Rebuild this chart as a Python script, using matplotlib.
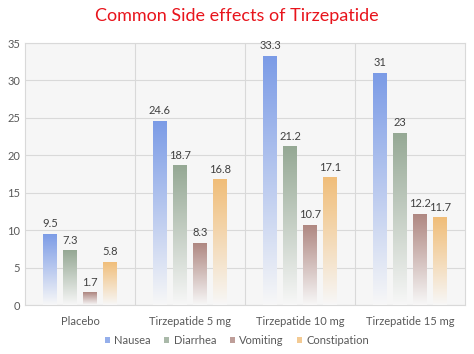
import matplotlib
matplotlib.use('Agg')
import matplotlib.pyplot as plt
import numpy as np
from matplotlib.patches import Patch

plt.rcParams['font.family'] = ['Lato', 'DejaVu Sans']

groups = ['Placebo', 'Tirzepatide 5 mg', 'Tirzepatide 10 mg', 'Tirzepatide 15 mg']
effects = ['Nausea', 'Diarrhea', 'Vomiting', 'Constipation']
nausea = [9.5, 24.6, 33.3, 31]
diarrhea = [7.3, 18.7, 21.2, 23]
vomiting = [1.7, 8.3, 10.7, 12.2]
constipation = [5.8, 16.8, 17.1, 11.7]
series = [nausea, diarrhea, vomiting, constipation]
colors = ['#7b9be6', '#95a894', '#ae8680', '#f0bd78']

fig = plt.figure(figsize=(4.74, 3.54), dpi=100)
ax = fig.add_axes([25 / 474, 1 - 305 / 354, 440 / 474, 262 / 354])
ax.set_facecolor('#f6f6f6')

x = np.arange(len(groups))
w = 0.127
step = 0.182
grad = np.linspace(0, 1, 256)

for i, (vals, col) in enumerate(zip(series, colors)):
    rgb = np.array(matplotlib.colors.to_rgb(col))
    img = np.zeros((256, 1, 3))
    for k in range(3):
        # top = full colour, bottom = near white
        img[:, 0, k] = rgb[k] + (0.97 - rgb[k]) * (1 - grad)
    pos = x + (i - 1.5) * step
    bars = ax.bar(pos, vals, w, color='none', edgecolor='none', zorder=3)
    for b, v in zip(bars, vals):
        im = ax.imshow(img, extent=(b.get_x(), b.get_x() + w, 0, v),
                       origin='lower', aspect='auto', zorder=3)
        im.set_clip_path(b)
        ax.text(b.get_x() + w / 2, v + 0.6, f'{v:g}', ha='center', va='bottom',
                fontsize=8, color='#404040', zorder=4)

ax.set_xlim(-0.5, len(groups) - 0.5)
ax.set_ylim(0, 35)
ax.set_yticks(range(0, 36, 5))
ax.set_xticks(x)
ax.set_xticklabels(groups)
ax.tick_params(axis='both', length=0, labelsize=8, labelcolor='#595959')
ax.tick_params(axis='x', pad=8)
ax.yaxis.grid(True, color='#d9d9d9', lw=0.8, zorder=1)
for xb in np.arange(0.5, len(groups) - 0.5, 1):
    ax.axvline(xb, color='#d9d9d9', lw=0.8, zorder=1)
for s in ax.spines.values():
    s.set_color('#d9d9d9')
    s.set_linewidth(0.8)

fig.suptitle('Common Side effects of Tirzepatide', color='#e8141c', fontsize=13,
             y=1 - 8 / 354, va='top')

handles = [Patch(facecolor=c, edgecolor='none', alpha=0.8) for c in colors]
fig.legend(handles, effects, loc='center', bbox_to_anchor=(0.5, 1 - 340 / 354),
           ncol=4, frameon=False, fontsize=8, handlelength=0.45, handleheight=0.45,
           handletextpad=0.4, columnspacing=1.2, labelcolor='#595959')

fig.savefig('out.png', dpi=100)
